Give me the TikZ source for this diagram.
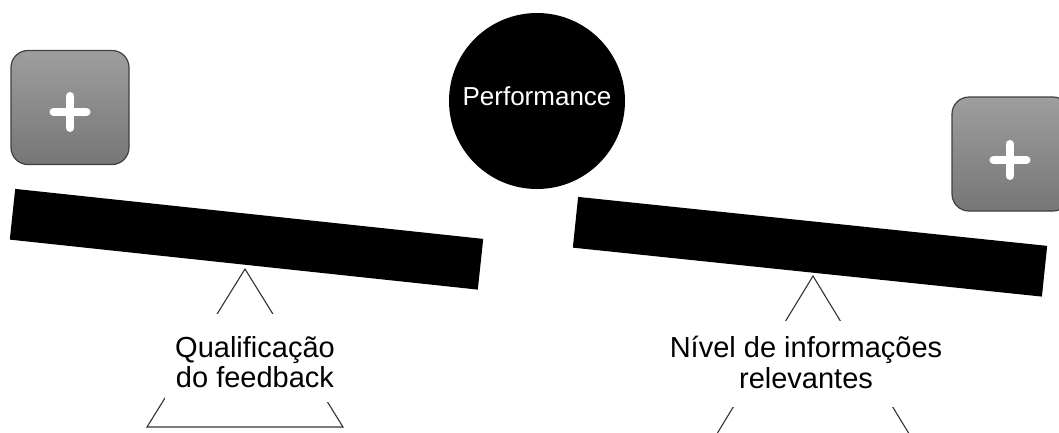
\documentclass[tikz,border=0pt]{standalone}
\usepackage{fontspec}
\setmainfont{Liberation Sans}
\usetikzlibrary{calc}
\definecolor{boxtop}{RGB}{158,158,158}
\definecolor{boxbot}{RGB}{118,118,118}
\definecolor{boxline}{RGB}{64,64,64}
\definecolor{legline}{RGB}{50,50,50}
\tikzset{
  plusbox/.style={rounded corners=17pt, draw=boxline, line width=1.2pt,
    top color=boxtop, bottom color=boxbot, minimum width=118pt, minimum height=114pt},
  plussign/.style={white, line width=8pt, line cap=round},
  beam/.style={fill=black, draw=none, minimum height=51pt, inner sep=0pt},
  fulcrum/.style={draw=legline, line width=1.1pt, line join=miter},
  cover/.style={fill=white, draw=none, inner sep=0pt},
  caption/.style={align=center, inner sep=0pt, font=\fontsize{29}{30.5}\selectfont},
  perf/.style={circle, fill=black, minimum size=176pt, inner sep=0pt,
    text=white, font=\fontsize{26}{28}\selectfont}
}
\begin{document}
\begin{tikzpicture}[x=1pt,y=-1pt]
\useasboundingbox (0,0) rectangle (1059,432);
\begin{scope}
\clip (0,0) rectangle (1059,432);

% central circle
\node[perf] (perfc) at (537,101) {};
\node[text=white, font=\fontsize{26}{28}\selectfont, anchor=base, inner sep=0pt] (perft) at (537,105) {Performance};

% plus boxes
\node[plusbox] (lbox) at (70,107.5) {};
\coordinate (lplus) at ($(lbox.center)+(0,4.5)$);
\draw[plussign] ($(lplus)+(-16.5,0)$) -- ($(lplus)+(16.5,0)$);
\draw[plussign] ($(lplus)+(0,-16)$) -- ($(lplus)+(0,16)$);

\node[plusbox] (rbox) at (1011,154) {};
\coordinate (rplus) at ($(rbox.center)+(-1,6)$);
\draw[plussign] ($(rplus)+(-16.5,0)$) -- ($(rplus)+(16.5,0)$);
\draw[plussign] ($(rplus)+(0,-16)$) -- ($(rplus)+(0,16)$);

% beams
\node[beam, minimum width=470.7pt, rotate=-6.1] (lbeam) at (246.5,239.25) {};
\node[beam, minimum width=471.6pt, rotate=-5.96] (rbeam) at (810,246.75) {};

% fulcrums
\coordinate (lapex) at (245,269);
\draw[fulcrum] (147,427) -- (lapex) -- (343,427) -- cycle;
\coordinate (rapex) at (813,276);
\draw[fulcrum] (715,437) -- (rapex) -- (911,437) -- cycle;

% labels on the fulcrums (base anchor sits on the last line)
\node[cover, minimum width=180pt, minimum height=88pt] (lcover) at (255,358) {};
\node[caption, anchor=base] (ltext) at (255,387.5) {Qualificação\\do feedback};

\node[cover, minimum width=300pt, minimum height=86pt] (rcover) at (806,364) {};
\node[caption, anchor=base] (rtext) at (806,388) {Nível de informações\\relevantes};
\end{scope}
\end{tikzpicture}
\end{document}
